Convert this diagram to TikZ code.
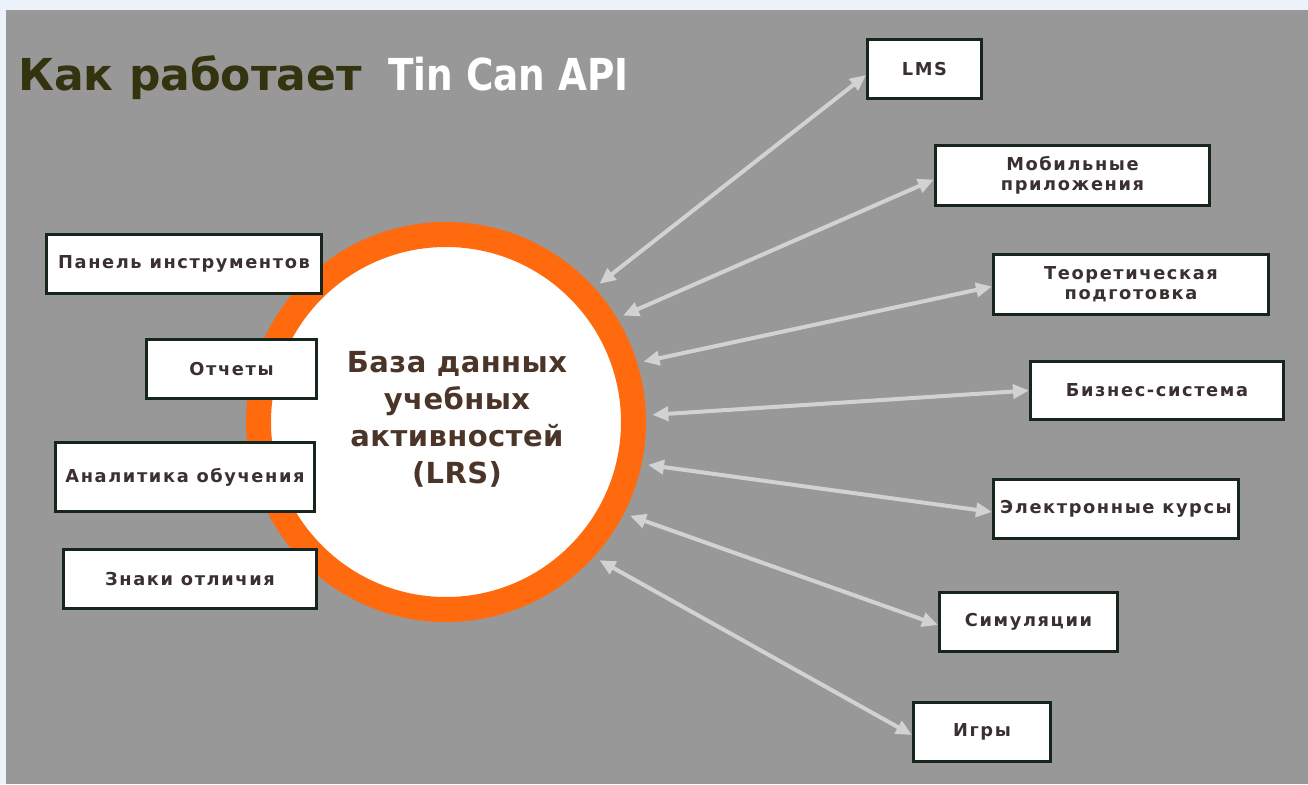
\documentclass[tikz,border=0pt]{standalone}
\usepackage{fontspec}
\setmainfont{DejaVu Sans}
\newfontfamily\headfont{DejaVu Sans}
\newfontfamily\apifont{DejaVu Sans}[FakeStretch=0.85]
\newfontfamily\corefont{DejaVu Sans}[LetterSpace=1.5]
\newfontfamily\boxfont{DejaVu Sans}[LetterSpace=9.0]
\usetikzlibrary{arrows.meta}

\definecolor{bggray}{HTML}{979897}
\definecolor{margin}{HTML}{EDF1FA}
\definecolor{ringorange}{HTML}{FF6A0E}
\definecolor{boxline}{HTML}{16261A}
\definecolor{boxtext}{HTML}{3A3030}
\definecolor{coretext}{HTML}{4A3528}
\definecolor{titledark}{HTML}{33330F}
\definecolor{linkgray}{HTML}{D2D2D2}

\tikzset{
  px/.style={x=1pt,y=-1pt},
  infobox/.style={draw=boxline, line width=3pt, fill=white, rectangle,
    inner sep=0pt, align=center, text=boxtext,
    font=\boxfont\bfseries\fontsize{17.8}{20}\selectfont},
  link/.style={draw=linkgray, line width=4pt,
    {Triangle[length=16pt,width=14pt]}-{Triangle[length=16pt,width=14pt]}},
}

\newcommand{\infonode}[6]{%
  % name, left, top, right, bottom, text
  \node[infobox, minimum width={#4-#2-3}, minimum height={#5-#3-3}]
    (#1) at ({(#2+#4)/2},{(#3+#5)/2}) {#6};}

\begin{document}
\begin{tikzpicture}[px]
  \useasboundingbox (0,0) rectangle (1308,784);
  \fill[margin] (0,0) rectangle (1308,784);
  \fill[bggray] (6,10) rectangle (1308,784);

  % title
  \node[anchor=base west, inner sep=0pt, text=titledark,
        font=\headfont\bfseries\fontsize{44}{52}\selectfont]
    (title) at (18,90) {Как работает};
  \node[anchor=base west, inner sep=0pt, text=white,
        font=\apifont\bfseries\fontsize{44}{52}\selectfont]
    (api) at (388,90) {Tin Can API};

  % central store
  \node[circle, draw=ringorange, line width=25pt, fill=white,
        minimum size=375pt, outer sep=19pt, inner sep=0pt] (lrs) at (446,422) {};
  \node[align=center, text=coretext, inner sep=0pt,
        font=\corefont\bfseries\fontsize{29}{37}\selectfont]
    (lrstext) at (457,419) {База данных\\учебных\\активностей\\(LRS)};

  % consumers on the left
  \infonode{panel}{45}{233}{323}{295}{Панель инструментов}
  \infonode{reports}{145}{338}{318}{400}{Отчеты}
  \infonode{analytics}{54}{441}{316}{513}{Аналитика обучения}
  \infonode{badges}{62}{548}{318}{610}{Знаки отличия}

  % activity providers on the right
  \infonode{lms}{866}{38}{983}{100}{LMS}
  \infonode{mobile}{934}{144}{1211}{207}{Мобильные\\приложения}
  \infonode{theory}{992}{253}{1270}{316}{Теоретическая\\подготовка}
  \infonode{business}{1029}{360}{1285}{421}{Бизнес-система}
  \infonode{courses}{992}{478}{1240}{540}{Электронные курсы}
  \infonode{sims}{938}{591}{1119}{653}{Симуляции}
  \infonode{games}{912}{701}{1052}{763}{Игры}

  % statements flowing both ways
  \draw[link] (lrs.42) -- ([yshift=-6pt]lms.west);
  \draw[link] (lrs.31) -- ([yshift=-4pt]mobile.west);
  \draw[link] (lrs.17.5) -- ([yshift=-2pt]theory.west);
  \draw[link] (lrs.2.5) -- (business.west);
  \draw[link] (lrs.-12.5) -- ([yshift=-3pt]courses.west);
  \draw[link] (lrs.-27.5) -- ([yshift=-3pt]sims.west);
  \draw[link] (lrs.-42) -- ([yshift=-3pt]games.west);
\end{tikzpicture}
\end{document}
